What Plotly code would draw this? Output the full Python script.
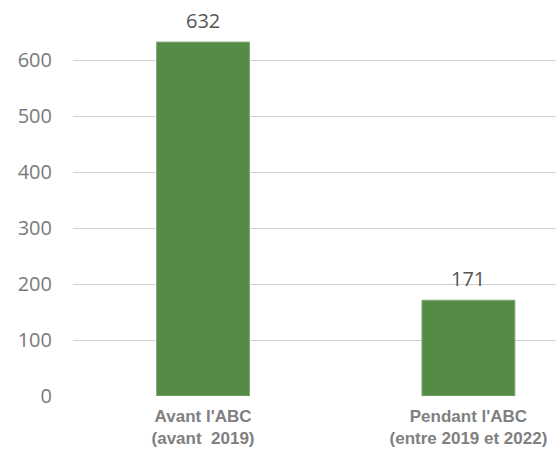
import plotly.graph_objects as go

# Category labels (two lines each) and counts
line1 = ["Avant l'ABC", "Pendant l'ABC"]
line2 = ["(avant  2019)", "(entre 2019 et 2022)"]
values = [632, 171]
positions = [0, 1]
y_ticks = [0, 100, 200, 300, 400, 500, 600]

bar_color = "#548b45"

fig = go.Figure(
    go.Bar(
        x=positions,
        y=values,
        width=0.35,
        marker=dict(color=bar_color, line=dict(color="#82a777", width=1)),
        cliponaxis=False,
    )
)

# Value labels above the bars
for p, v in zip(positions, values):
    fig.add_annotation(x=p, y=v, xref="x", yref="y", text=str(v), showarrow=False,
                       yanchor="bottom", yshift=6,
                       font=dict(family="Open Sans", size=20, color="#555555"))

tick_text = ["<b>" + a + "<br>" + b + "</b>" for a, b in zip(line1, line2)]

fig.update_layout(
    width=558,
    height=451,
    margin=dict(l=73, r=2, t=4, b=55),
    paper_bgcolor="white",
    plot_bgcolor="white",
    showlegend=False,
    xaxis=dict(range=[-0.49, 1.33], tickvals=positions, ticktext=tick_text,
               tickfont=dict(family="Liberation Sans", size=17, color="#808080"),
               ticklabelstandoff=8, ticks="", showgrid=False,
               zeroline=False, showline=False, fixedrange=True),
    yaxis=dict(range=[0, 700], tickvals=y_ticks, showgrid=True, gridcolor="#cfcfcf",
               gridwidth=1, zeroline=False, showline=False,
               tickfont=dict(family="Open Sans", size=20, color="#7a7a7a"),
               ticklabelstandoff=20),
)

fig.write_html("out.html")
